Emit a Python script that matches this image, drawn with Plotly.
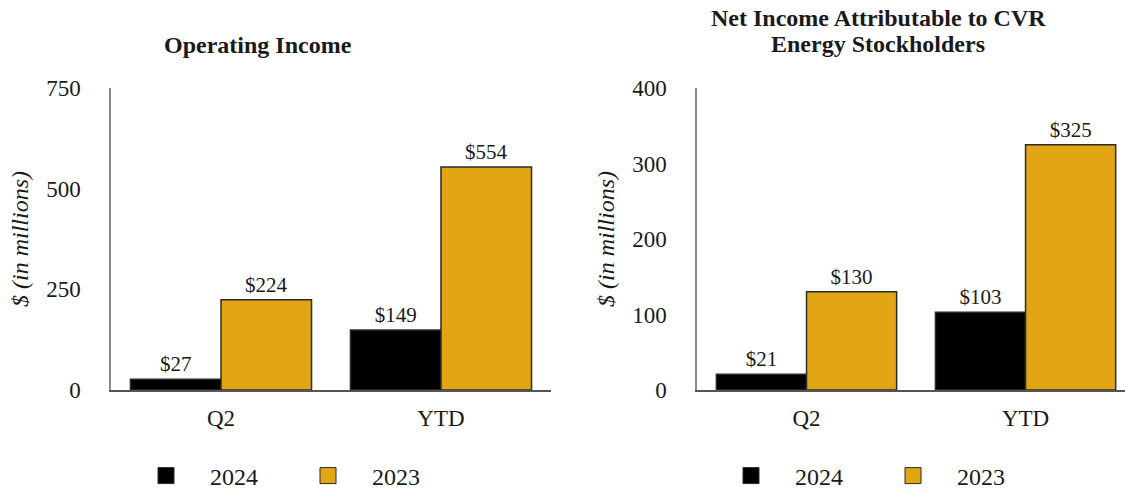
import plotly.graph_objects as go

categories = ["Q2", "YTD"]
years = ["2024", "2023"]
op_income_2024 = [27, 149]
op_income_2023 = [224, 554]
net_income_2024 = [21, 103]
net_income_2023 = [130, 325]
left_ticks = [0, 250, 500, 750]
right_ticks = [0, 100, 200, 300, 400]

BLACK = "#000000"
GOLD = "#E2A614"
EDGE = "#2b2b2b"
FONT = "Liberation Serif"
TXT = "#1a1a1a"
PAD = "\u00a0\u00a0\u00a0\u00a0"

fig = go.Figure()

def add_bars(vals, color, xa, ya, name):
    fig.add_trace(go.Bar(
        x=categories, y=vals, name=name, xaxis=xa, yaxis=ya,
        marker=dict(color=color, line=dict(color=EDGE, width=1.5)),
        text=[f"${v}" for v in vals], textposition="outside",
        textfont=dict(family=FONT, size=21, color=TXT),
        cliponaxis=False, showlegend=False, hoverinfo="skip",
        offsetgroup=name,
    ))

add_bars(op_income_2024, BLACK, "x", "y", "2024")
add_bars(op_income_2023, GOLD, "x", "y", "2023")
add_bars(net_income_2024, BLACK, "x2", "y2", "2024")
add_bars(net_income_2023, GOLD, "x2", "y2", "2023")

# legend entries
for lg in ["legend", "legend2"]:
    for yr, col in zip(years, [BLACK, GOLD]):
        fig.add_trace(go.Scatter(
            x=[None], y=[None], mode="markers", name=PAD + yr, legend=lg,
            marker=dict(symbol="square", size=20, color=col,
                        line=dict(color=EDGE, width=1)),
            showlegend=True,
        ))

ydom = [(491 - 390) / 491, (491 - 88) / 491]
axis_font = dict(family=FONT, size=23, color=TXT)

xcommon = dict(type="category", showgrid=False, zeroline=False,
               showline=True, linecolor="#555555", linewidth=2,
               ticks="outside", ticklen=6, tickcolor="rgba(0,0,0,0)",
               tickfont=axis_font, fixedrange=True)
ycommon = dict(showgrid=False, zeroline=False, showline=True,
               linecolor="#8a8a8a", linewidth=1.5,
               ticks="outside", ticklen=24, tickcolor="rgba(0,0,0,0)",
               tickfont=axis_font, domain=ydom,
               title=dict(text="<i>$ (in millions)</i>",
                          font=dict(family=FONT, size=24, color=TXT),
                          standoff=11))

legend_common = dict(orientation="h", y=(491 - 476) / 491, yanchor="middle",
                     font=dict(family=FONT, size=24, color=TXT),
                     entrywidth=117, entrywidthmode="pixels",
                     bgcolor="rgba(0,0,0,0)")

fig.update_layout(
    width=1125, height=491,
    margin=dict(l=0, r=0, t=0, b=0, autoexpand=False),
    paper_bgcolor="white", plot_bgcolor="white",
    barmode="group", bargap=0.177, bargroupgap=0,
    xaxis=dict(**xcommon, domain=[111 / 1125, 551 / 1125], range=[-0.5, 1.5], anchor="y"),
    xaxis2=dict(**xcommon, domain=[697 / 1125, 1.0], range=[-0.5, 1.454], anchor="y2"),
    yaxis=dict(**ycommon, range=[0, 750], tickvals=left_ticks, anchor="x"),
    yaxis2=dict(**ycommon, range=[0, 400], tickvals=right_ticks, anchor="x2"),
    legend=dict(**legend_common, x=146 / 1125, xanchor="left"),
    legend2=dict(**legend_common, x=731 / 1125, xanchor="left"),
    annotations=[
        dict(text="<b>Operating Income</b>", x=258 / 1125, y=(491 - 45) / 491,
             xref="paper", yref="paper", showarrow=False,
             xanchor="center", yanchor="middle",
             font=dict(family=FONT, size=24, color=TXT)),
        dict(text="<b>Net Income Attributable to CVR</b>",
             x=878 / 1125, y=(491 - 18) / 491, xref="paper", yref="paper",
             showarrow=False, xanchor="center", yanchor="middle",
             font=dict(family=FONT, size=24, color=TXT)),
        dict(text="<b>Energy Stockholders</b>",
             x=878 / 1125, y=(491 - 44) / 491, xref="paper", yref="paper",
             showarrow=False, xanchor="center", yanchor="middle",
             font=dict(family=FONT, size=24, color=TXT)),
    ],
)

fig.write_html("out.html")
